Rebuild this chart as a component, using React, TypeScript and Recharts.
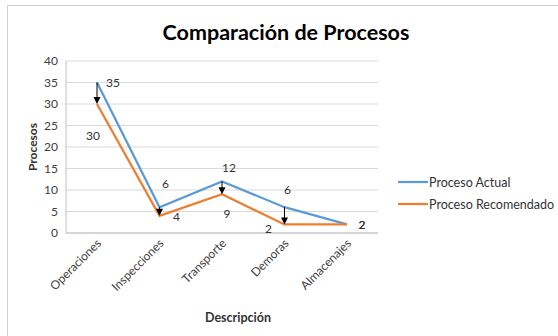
import React from 'react';
import { LineChart, Line, XAxis, YAxis, CartesianGrid, ReferenceLine, LabelList } from 'recharts';

const categories = ['Operaciones', 'Inspecciones', 'Transporte', 'Demoras', 'Almacenajes'];
const procesoActual = [35, 6, 12, 6, 2];
const procesoRecomendado = [30, 4, 9, 2, 2];
const yTicks = [0, 5, 10, 15, 20, 25, 30, 35, 40];

// label placement offsets (dx, dy) relative to each point
const actualLabelOffsets = [[16, 0], [6, -24], [7, -14], [3, -18], [15, 0]];
const recLabelOffsets = [[-4, 31], [17, 1], [5, 19], [-16, 4], [15, 0]];

const FONT = 'Lato, "Open Sans", sans-serif';

const data = categories.map((c, i) => ({ name: c, actual: procesoActual[i], rec: procesoRecomendado[i] }));
const arrows = categories
  .map((c, i) => ({ name: c, from: procesoActual[i], to: procesoRecomendado[i] }))
  .filter((a) => a.from !== a.to);

const Arrow = (props: any) => {
  const { x1, y1, x2, y2 } = props;
  const head = 7;
  const hw = 3.5;
  return (
    <g>
      <line x1={x1} y1={y1} x2={x2} y2={y2 - head + 1} stroke="#000" strokeWidth={1} />
      <polygon points={`${x2 - hw},${y2 - head} ${x2 + hw},${y2 - head} ${x2},${y2}`} fill="#000" />
    </g>
  );
};

const makeLabel = (offsets: number[][]) => (props: any) => {
  const { x, y, value, index } = props;
  const off = offsets[index] || [0, 0];
  return (
    <text
      x={x + off[0]}
      y={y + off[1]}
      textAnchor="middle"
      dominantBaseline="central"
      fontSize={12}
      fontFamily={FONT}
      fill="#333"
    >
      {value}
    </text>
  );
};

const XTick = (props: any) => {
  const { x, y, payload } = props;
  const ax = x + 5;
  const ay = y + 3;
  return (
    <text
      x={ax}
      y={ay}
      transform={`rotate(-45 ${ax} ${ay})`}
      textAnchor="end"
      fontSize={12}
      fontFamily={FONT}
      fill="#404040"
    >
      {payload.value}
    </text>
  );
};

export default function App() {
  return (
    <div style={{ position: 'absolute', left: 0, top: 0, width: 558, height: 336, overflow: 'hidden', background: '#fff' }}>
      <div
        style={{
          position: 'absolute',
          left: 7,
          top: 5,
          width: 580,
          height: 360,
          border: '1px solid #d0d0d0',
          boxSizing: 'border-box',
        }}
      />
      <div
        style={{
          position: 'absolute',
          left: 0,
          width: 572,
          top: 17,
          textAlign: 'center',
          fontFamily: FONT,
          fontWeight: 'bold',
          fontSize: 21.5,
          color: '#000',
          lineHeight: '30px',
        }}
      >
        Comparación de Procesos
      </div>
      <div style={{ position: 'absolute', left: 0, top: 0 }}>
        <LineChart width={558} height={336} data={data} margin={{ top: 61, right: 180, bottom: 0, left: 0 }}>
          <CartesianGrid vertical={false} stroke="#d9d9d9" />
          <XAxis
            dataKey="name"
            height={103}
            padding={{ left: 31, right: 31 }}
            tickLine={false}
            axisLine={{ stroke: '#bfbfbf' }}
            interval={0}
            tick={<XTick />}
            label={(p: any) => {
              const vb = p.viewBox;
              return (
                <text
                  x={vb.x + vb.width / 2 + 16}
                  y={317}
                  textAnchor="middle"
                  dominantBaseline="central"
                  fontSize={12.5}
                  fontWeight="bold"
                  fontFamily={FONT}
                  fill="#333"
                >
                  Descripción
                </text>
              );
            }}
          />
          <YAxis
            width={66}
            domain={[0, 40]}
            ticks={yTicks}
            interval={0}
            tickLine={false}
            axisLine={{ stroke: '#bfbfbf' }}
            tick={{ fontSize: 12, fill: '#404040', fontFamily: FONT }}
            label={(p: any) => {
              const vb = p.viewBox;
              const cx = 32;
              const cy = vb.y + vb.height / 2;
              return (
                <text
                  x={cx}
                  y={cy}
                  transform={`rotate(-90 ${cx} ${cy})`}
                  textAnchor="middle"
                  dominantBaseline="central"
                  fontSize={12}
                  fontWeight="bold"
                  fontFamily={FONT}
                  fill="#333"
                >
                  Procesos
                </text>
              );
            }}
          />
          <Line type="linear" dataKey="actual" name="Proceso Actual" stroke="#5B9BD5" strokeWidth={2.25} dot={false} isAnimationActive={false}>
            <LabelList dataKey="actual" content={makeLabel(actualLabelOffsets)} />
          </Line>
          <Line type="linear" dataKey="rec" name="Proceso Recomendado" stroke="#ED7D31" strokeWidth={2.25} dot={false} isAnimationActive={false}>
            <LabelList dataKey="rec" content={makeLabel(recLabelOffsets)} />
          </Line>
          {arrows.map((a) => (
            <ReferenceLine
              key={a.name}
              segment={[{ x: a.name, y: a.from }, { x: a.name, y: a.to }]}
              shape={Arrow}
              ifOverflow="visible"
            />
          ))}
        </LineChart>
      </div>
      <div style={{ position: 'absolute', left: 398, top: 173, fontFamily: FONT, fontSize: 12.5, color: '#333' }}>
        <div style={{ display: 'flex', alignItems: 'center', height: 18 }}>
          <svg width={30} height={4} style={{ marginRight: 1 }}>
            <line x1={0} y1={2} x2={30} y2={2} stroke="#5B9BD5" strokeWidth={2.25} />
          </svg>
          <span>Proceso Actual</span>
        </div>
        <div style={{ display: 'flex', alignItems: 'center', height: 18, marginTop: 4 }}>
          <svg width={30} height={4} style={{ marginRight: 1 }}>
            <line x1={0} y1={2} x2={30} y2={2} stroke="#ED7D31" strokeWidth={2.25} />
          </svg>
          <span>Proceso Recomendado</span>
        </div>
      </div>
    </div>
  );
}
